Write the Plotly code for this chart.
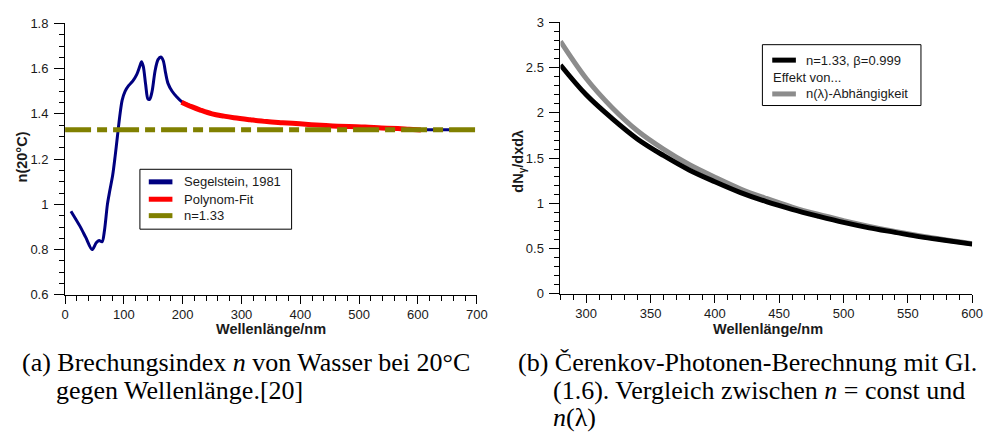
import plotly.graph_objects as go

W, H = 995, 441


def px(x):
    return x / W


def py(y):
    return 1 - y / H


# ---------------- data ----------------
# (a) refractive index of water, Segelstein 1981
seg_wl = [10, 25, 35, 46, 53, 58, 63, 67, 72, 76, 81, 85, 89, 93, 97, 102, 108,
          115, 122, 127, 130, 133, 137, 141, 144, 148, 153, 158, 163, 167, 171,
          175, 182, 190, 198, 250, 300, 350, 400, 450, 500, 550, 600, 665]
seg_n = [0.97, 0.905, 0.855, 0.80, 0.83, 0.84, 0.835, 0.885, 1.00, 1.06, 1.13,
         1.21, 1.30, 1.39, 1.46, 1.50, 1.525, 1.545, 1.575, 1.61, 1.63, 1.61,
         1.53, 1.465, 1.465, 1.50, 1.59, 1.64, 1.652, 1.635, 1.58, 1.535, 1.50,
         1.475, 1.455, 1.40, 1.378, 1.365, 1.356, 1.348, 1.342, 1.336, 1.331, 1.33]
# polynomial fit
fit_wl = [198, 215, 231, 250, 270, 287, 315, 343, 370, 399, 427, 455, 483, 510,
          538, 566, 585, 605]
fit_n = [1.452, 1.432, 1.416, 1.400, 1.390, 1.383, 1.374, 1.366, 1.361, 1.356,
         1.351, 1.347, 1.344, 1.342, 1.338, 1.335, 1.332, 1.329]
# constant index
const_wl = [0, 700]
const_n = [1.33, 1.33]

# (b) Cerenkov photon yield
cer_wl = [280, 300, 320, 340, 360, 380, 400, 420, 440, 460, 480, 500, 520, 540,
          560, 580, 600]
cer_const = [2.53, 2.20, 1.94, 1.71, 1.53, 1.37, 1.24, 1.12, 1.02, 0.935, 0.86,
             0.79, 0.73, 0.68, 0.63, 0.59, 0.55]
cer_nlambda = [2.79, 2.38, 2.06, 1.80, 1.60, 1.43, 1.29, 1.16, 1.055, 0.96,
               0.88, 0.81, 0.745, 0.69, 0.64, 0.595, 0.555]

# tick labels
a_xticks = [0, 100, 200, 300, 400, 500, 600, 700]
a_yticks = [0.6, 0.8, 1.0, 1.2, 1.4, 1.6, 1.8]
a_yticktext = ["0.6", "0.8", "1", "1.2", "1.4", "1.6", "1.8"]
b_xticks = [300, 350, 400, 450, 500, 550, 600]
b_yticks = [0, 0.5, 1.0, 1.5, 2.0, 2.5, 3.0]
b_yticktext = ["0", "0.5", "1", "1.5", "2", "2.5", "3"]

# ---------------- styles ----------------
BLUE = "#000080"
RED = "#ff0000"
OLIVE = "#808000"
BLACK = "#000000"
GRAY = "#8c8c8c"
SANS = "Liberation Sans"
SERIF = "Liberation Serif"

fig = go.Figure()

fig.add_trace(go.Scatter(x=seg_wl, y=seg_n, mode="lines", xaxis="x", yaxis="y",
                         line=dict(color=BLUE, width=3, shape="spline", smoothing=0.8),
                         showlegend=False))
fig.add_trace(go.Scatter(x=fit_wl, y=fit_n, mode="lines", xaxis="x", yaxis="y",
                         line=dict(color=RED, width=5, shape="spline"),
                         showlegend=False))
fig.add_trace(go.Scatter(x=const_wl, y=const_n, mode="lines", xaxis="x", yaxis="y",
                         line=dict(color=OLIVE, width=5, dash="26px,6px,10px,6px"),
                         showlegend=False))

fig.add_trace(go.Scatter(x=cer_wl, y=cer_nlambda, mode="lines", xaxis="x2", yaxis="y2",
                         line=dict(color=GRAY, width=5, shape="spline"),
                         showlegend=False))
fig.add_trace(go.Scatter(x=cer_wl, y=cer_const, mode="lines", xaxis="x2", yaxis="y2",
                         line=dict(color=BLACK, width=5, shape="spline"),
                         showlegend=False))

tickfont = dict(family=SANS, size=13, color="#1a1a1a")


def xax(domain, rng, vals, minor_dtick, minor_tick0):
    return dict(domain=domain, range=rng, tickmode="array", tickvals=vals,
                ticktext=[str(v) for v in vals], ticks="outside", ticklen=8,
                tickcolor="#000", tickwidth=1, showline=True, linecolor="#000",
                linewidth=1, showgrid=False, zeroline=False, tickfont=tickfont,
                minor=dict(ticks="outside", ticklen=5, tickcolor="#000",
                           tick0=minor_tick0, dtick=minor_dtick, showgrid=False),
                fixedrange=True)


def yax(domain, rng, vals, text, minor_dtick, minor_tick0, anchor):
    return dict(domain=domain, range=rng, anchor=anchor, tickmode="array",
                tickvals=vals, ticktext=text, ticks="outside", ticklen=10,
                tickcolor="#000", tickwidth=1, showline=True, linecolor="#000",
                linewidth=1, showgrid=False, zeroline=False, tickfont=tickfont,
                ticklabelstandoff=3,
                minor=dict(ticks="outside", ticklen=5, tickcolor="#000",
                           tick0=minor_tick0, dtick=minor_dtick, showgrid=False),
                fixedrange=True)


fig.update_layout(
    autosize=True, margin=dict(l=0, r=0, t=0, b=0, pad=0),
    paper_bgcolor="white", plot_bgcolor="white", showlegend=False,
    xaxis=dict(xax([px(62), px(480)], [0, 700], a_xticks, 20, 0), anchor="y"),
    yaxis=yax([py(298), py(17)], [0.6, 1.8], a_yticks, a_yticktext, 0.05, 0.6, "x"),
    xaxis2=dict(xax([px(565), px(983)], [280, 600], b_xticks, 10, 280), anchor="y2"),
    yaxis2=yax([py(297), py(16)], [0, 3], b_yticks, b_yticktext, 0.1, 0, "x2"),
)

shapes = []
annotations = []


def text(x, y, s, size=13, family=SANS, xanchor="left", angle=0, width=None, color="#1a1a1a"):
    a = dict(x=px(x), y=py(y), xref="paper", yref="paper", text=s, showarrow=False,
             xanchor=xanchor, yanchor="middle", textangle=angle,
             font=dict(family=family, size=size, color=color), borderpad=0)
    if width is not None:
        a["width"] = width
        a["align"] = "left"
    annotations.append(a)


# axis titles
text(271, 333, "<b>Wellenlänge/nm</b>", size=14.5, xanchor="center")
text(776, 333, "<b>Wellenlänge/nm</b>", size=14.5, xanchor="center")
text(18, 155, "<b>n(20°C)</b>", size=14.5, xanchor="center", angle=-90)
text(522, 160, "<b>dN<sub>γ</sub>/dxdλ</b>", size=14.5, xanchor="center", angle=-90)

# legend (a)
shapes.append(dict(type="rect", xref="paper", yref="paper", x0=px(138), x1=px(292),
                   y0=py(230), y1=py(168), line=dict(color="#000", width=1),
                   fillcolor="white", layer="above"))
for yy, col, lab in [(181, BLUE, "Segelstein, 1981"), (199, RED, "Polynom-Fit"),
                     (216, OLIVE, "n=1.33")]:
    shapes.append(dict(type="line", xref="paper", yref="paper", x0=px(147), x1=px(171),
                       y0=py(yy), y1=py(yy), line=dict(color=col, width=5), layer="above"))
    text(182, yy, lab)

# legend (b)
shapes.append(dict(type="rect", xref="paper", yref="paper", x0=px(770), x1=px(931),
                   y0=py(102), y1=py(39), line=dict(color="#000", width=1),
                   fillcolor="white", layer="above"))
shapes.append(dict(type="line", xref="paper", yref="paper", x0=px(780), x1=px(804),
                   y0=py(55), y1=py(55), line=dict(color=BLACK, width=5), layer="above"))
text(813, 55, "n=1.33, β=0.999", width=116)
text(780, 73, "Effekt von...")
shapes.append(dict(type="line", xref="paper", yref="paper", x0=px(780), x1=px(804),
                   y0=py(90), y1=py(90), line=dict(color=GRAY, width=5), layer="above"))
text(813, 90, "n(λ)-Abhängigkeit")

# captions
cap = dict(size=26, family=SERIF, color="#000")
text(17, 368, "(a) Brechungsindex <i>n</i> von Wasser bei 20°C", **cap)
text(52, 397, "gegen Wellenlänge.[20]", **cap)
text(521, 368, "(b) Čerenkov-Photonen-Berechnung mit Gl.", **cap)
text(556, 397, "(1.6). Vergleich zwischen <i>n</i> = const und", **cap)
text(556, 425, "<i>n</i>(λ)", **cap)

fig.update_layout(shapes=shapes, annotations=annotations)
fig.write_html(
    "out.html",
    config={"displayModeBar": False, "responsive": True},
    default_width="100vw",
    default_height="100vh",
    post_script="document.body.style.margin='0';document.body.style.overflow='hidden';"
                "document.documentElement.style.overflow='hidden';",
)
